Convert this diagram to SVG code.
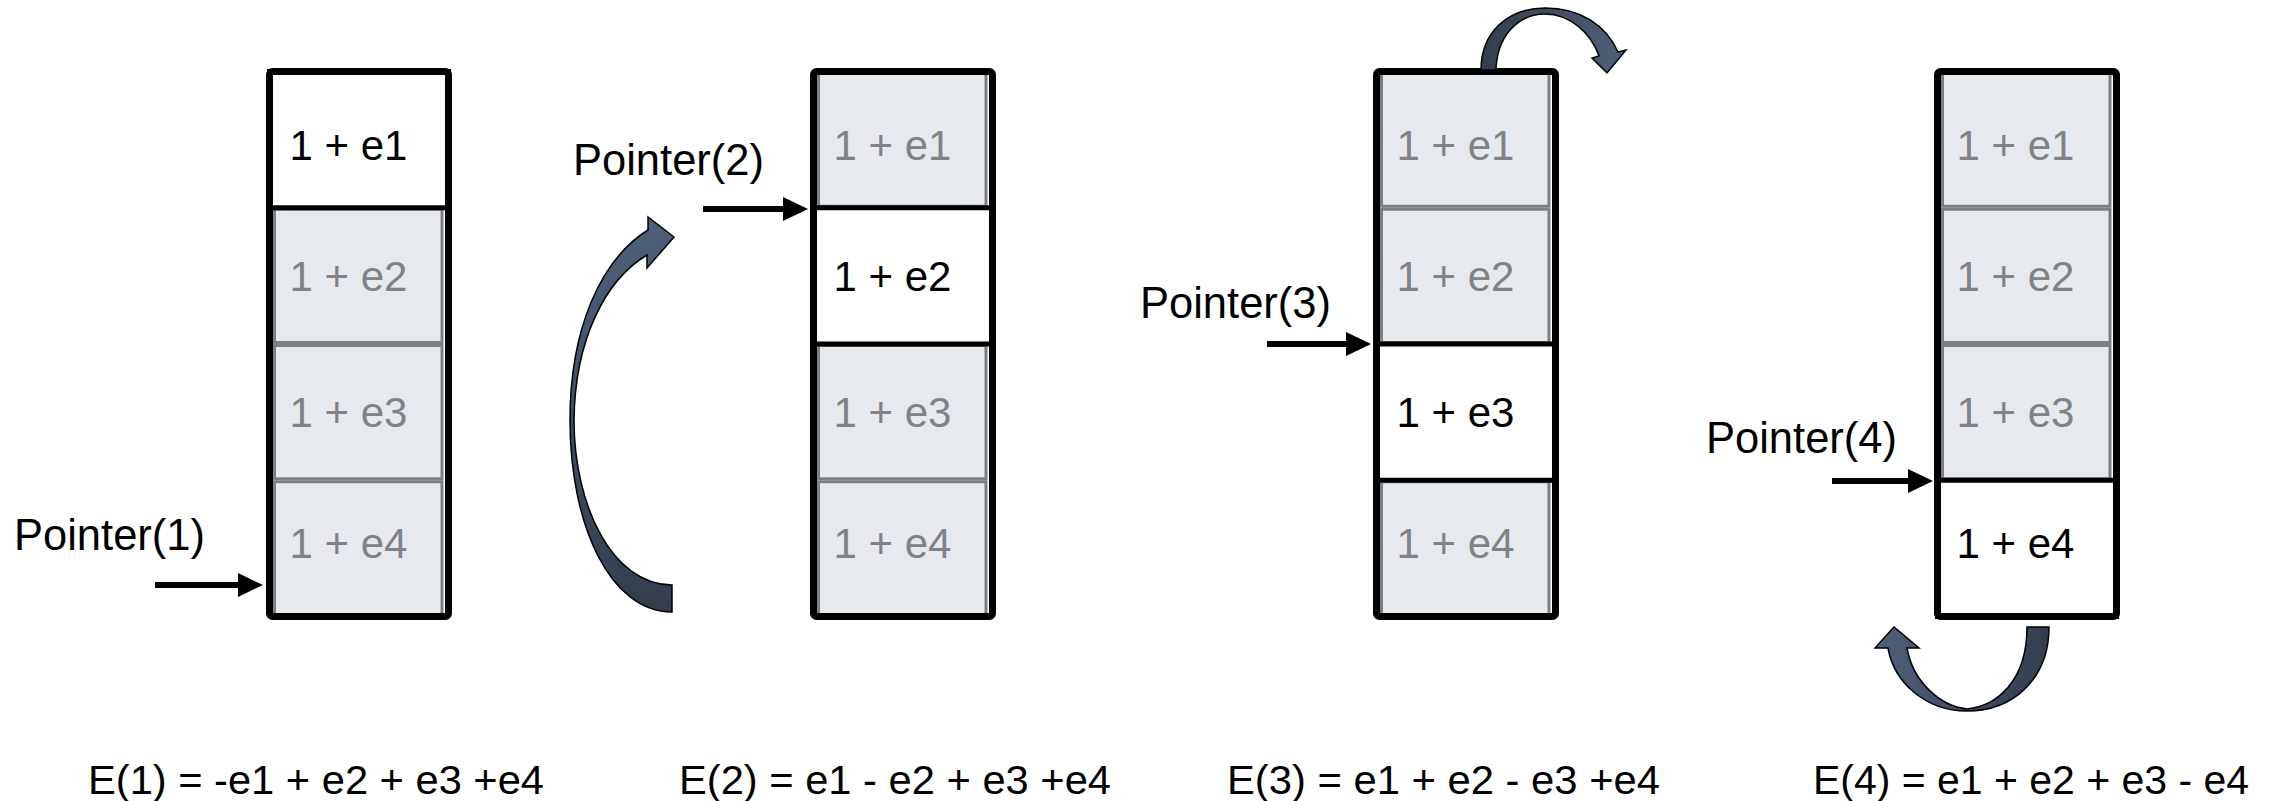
<svg xmlns="http://www.w3.org/2000/svg" width="2269" height="801" viewBox="0 0 2269 801">
  <style>
    .cell { fill: #e6e9ed; stroke: #7c7f83; stroke-width: 3; }
    .cur { fill: #ffffff; stroke: #000000; stroke-width: 5; }
    .frame { fill: none; stroke: #000000; stroke-width: 7; }
    .val { font-family: "Liberation Sans", Arial, sans-serif; font-size: 42px; fill: #7f8286; }
    .val.on { fill: #000000; }
    .lbl { font-family: "Liberation Sans", Arial, sans-serif; font-size: 43.5px; fill: #000000; }
    .eq { font-family: "Liberation Sans", Arial, sans-serif; font-size: 41px; fill: #000000; }
    .ptr { stroke: #000000; stroke-width: 6; fill: none; }
    .turn { stroke: #000000; stroke-width: 1.5; stroke-linejoin: miter; }
  </style>
  <defs>
    <marker id="head" markerUnits="userSpaceOnUse" markerWidth="26" markerHeight="26" viewBox="0 0 26 26" refX="5" refY="13" orient="auto">
      <path d="M0,1 L25,13 L0,25 Z" fill="#000000"/>
    </marker>
    <linearGradient id="gUp" x1="0" y1="0" x2="0" y2="1">
      <stop offset="0" stop-color="#4e607a"/>
      <stop offset="1" stop-color="#333d4c"/>
    </linearGradient>
    <linearGradient id="gRight" x1="0" y1="0" x2="1" y2="0">
      <stop offset="0" stop-color="#333d4c"/>
      <stop offset="1" stop-color="#4e607a"/>
    </linearGradient>
    <linearGradient id="gLeft" x1="0" y1="0" x2="1" y2="0">
      <stop offset="0" stop-color="#4e607a"/>
      <stop offset="1" stop-color="#333d4c"/>
    </linearGradient>
  </defs>

  <rect width="2269" height="801" fill="#ffffff"/>

  <!-- Stack 1: current element e1 -->
  <g id="stack1">
    <rect class="cell" x="274.5" y="209.25" width="167.5" height="133.25"/>
    <rect class="cell" x="274.5" y="345.5" width="167.5" height="133.25"/>
    <rect class="cell" x="274.5" y="481.75" width="167.5" height="133.25"/>
    <rect class="cur" x="269.5" y="71.5" width="179" height="136.25"/>
    <rect class="frame" x="269.5" y="71.5" width="179" height="545" rx="3"/>
    <text class="val on" x="289.5" y="160">1 + e1</text>
    <text class="val" x="289.5" y="291">1 + e2</text>
    <text class="val" x="289.5" y="427">1 + e3</text>
    <text class="val" x="289.5" y="558">1 + e4</text>
    <text class="lbl" x="14" y="550">Pointer(1)</text>
  </g>

  <!-- Stack 2: current element e2 -->
  <g id="stack2">
    <rect class="cell" x="818.5" y="73" width="167.5" height="133.25"/>
    <rect class="cell" x="818.5" y="345.5" width="167.5" height="133.25"/>
    <rect class="cell" x="818.5" y="481.75" width="167.5" height="133.25"/>
    <rect class="cur" x="813.5" y="207.75" width="179" height="136.25"/>
    <rect class="frame" x="813.5" y="71.5" width="179" height="545" rx="3"/>
    <text class="val" x="833.5" y="160">1 + e1</text>
    <text class="val on" x="833.5" y="291">1 + e2</text>
    <text class="val" x="833.5" y="427">1 + e3</text>
    <text class="val" x="833.5" y="558">1 + e4</text>
    <text class="lbl" x="573" y="175">Pointer(2)</text>
  </g>

  <!-- Stack 3: current element e3 -->
  <g id="stack3">
    <rect class="cell" x="1381.5" y="73" width="167.5" height="133.25"/>
    <rect class="cell" x="1381.5" y="209.25" width="167.5" height="133.25"/>
    <rect class="cell" x="1381.5" y="481.75" width="167.5" height="133.25"/>
    <rect class="cur" x="1376.5" y="344" width="179" height="136.25"/>
    <rect class="frame" x="1376.5" y="71.5" width="179" height="545" rx="3"/>
    <text class="val" x="1396.5" y="160">1 + e1</text>
    <text class="val" x="1396.5" y="291">1 + e2</text>
    <text class="val on" x="1396.5" y="427">1 + e3</text>
    <text class="val" x="1396.5" y="558">1 + e4</text>
    <text class="lbl" x="1140" y="318">Pointer(3)</text>
  </g>

  <!-- Stack 4: current element e4 -->
  <g id="stack4">
    <rect class="cell" x="1942.5" y="73" width="167.5" height="133.25"/>
    <rect class="cell" x="1942.5" y="209.25" width="167.5" height="133.25"/>
    <rect class="cell" x="1942.5" y="345.5" width="167.5" height="133.25"/>
    <rect class="cur" x="1937.5" y="480.25" width="179" height="136.25"/>
    <rect class="frame" x="1937.5" y="71.5" width="179" height="545" rx="3"/>
    <text class="val" x="1956.5" y="160">1 + e1</text>
    <text class="val" x="1956.5" y="291">1 + e2</text>
    <text class="val" x="1956.5" y="427">1 + e3</text>
    <text class="val on" x="1956.5" y="558">1 + e4</text>
    <text class="lbl" x="1706" y="453">Pointer(4)</text>
  </g>

  <!-- Pointer arrows and wrap-around turn arrows -->
  <g id="connectors">
    <line class="ptr" x1="155" y1="585" x2="243" y2="585" marker-end="url(#head)"/>
    <line class="ptr" x1="703" y1="209" x2="788" y2="209" marker-end="url(#head)"/>
    <line class="ptr" x1="1267" y1="344" x2="1351" y2="344" marker-end="url(#head)"/>
    <line class="ptr" x1="1832" y1="481" x2="1913" y2="481" marker-end="url(#head)"/>

    <!-- sweep up from the bottom towards the next stack -->
    <path class="turn" fill="url(#gUp)" d="M672,612 C610,612 570,525 570,420 C570,330 600,260 648,230 L648,217 L674,237 L647,268 L647,255 C605,280 575,340 574,420 C574,505 612,585 672,585 Z"/>
    <!-- hop over the top of stack 3 -->
    <path class="turn" fill="url(#gRight)" d="M1481,70 C1481,32 1508,8 1545,8 C1580,8 1606,25 1618,52 L1626,50 L1607,73 L1592,58 L1599,56 C1591,33 1570,14 1545,14 C1518,14 1497,36 1496,70 Z"/>
    <!-- loop under the bottom of stack 4 -->
    <path class="turn" fill="url(#gLeft)" d="M2027,627 L2049,627 C2049,680 2012,711 1967,711 C1925,711 1894,682 1888,648 L1875,648 L1894,627 L1919,648 L1907,648 C1913,682 1940,706 1967,709 C1996,706 2027,682 2027,627 Z"/>
  </g>

  <!-- Error expressions under each stack -->
  <g id="captions">
    <text class="eq" x="88" y="794" textLength="456" lengthAdjust="spacingAndGlyphs">E(1) = -e1 + e2 + e3 +e4</text>
    <text class="eq" x="679" y="794" textLength="432" lengthAdjust="spacingAndGlyphs">E(2) = e1 - e2 + e3 +e4</text>
    <text class="eq" x="1227" y="794" textLength="433" lengthAdjust="spacingAndGlyphs">E(3) = e1 + e2 - e3 +e4</text>
    <text class="eq" x="1813" y="794" textLength="436" lengthAdjust="spacingAndGlyphs">E(4) = e1 + e2 + e3 - e4</text>
  </g>
</svg>
